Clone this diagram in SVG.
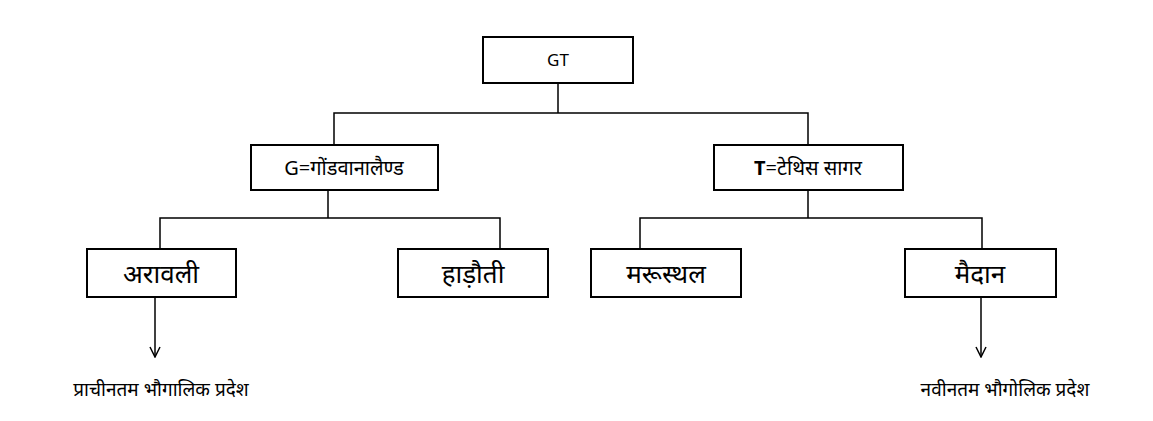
<svg xmlns="http://www.w3.org/2000/svg" width="1153" height="421" viewBox="0 0 1153 421">
<style>
.b{fill:#fff;stroke:#000;stroke-width:2}
.c{fill:none;stroke:#000;stroke-width:1.5}
text{font-family:"Noto Sans","Liberation Sans","Noto Sans CJK SC",sans-serif;fill:#000;text-anchor:middle}
.s{font-size:17px}.m{font-size:20px}.l{font-size:26px}.f{font-size:19px}
</style>
<defs><marker id="a" viewBox="0 0 12 12" refX="11" refY="6" markerWidth="12" markerHeight="12" markerUnits="userSpaceOnUse" orient="auto"><path d="M1,1 L11,6 L1,11" fill="none" stroke="#000" stroke-width="1.5"/></marker></defs>
<rect width="1153" height="421" fill="#fff"/>
<g id="connectors">
<path class="c" d="M558,83V113M334,145V113H808V145"/>
<path class="c" d="M328,190V218M160,249V218H500V249"/>
<path class="c" d="M808,190V218M640,249V218H982V249"/>
<path class="c" d="M155,297V357" marker-end="url(#a)"/>
<path class="c" d="M981,297V357" marker-end="url(#a)"/>
</g>
<g id="gt"><rect class="b" x="483" y="37" width="150" height="46"/><text class="s" x="558" y="66">GT</text></g>
<g id="g"><rect class="b" x="251" y="145" width="187" height="45"/><text class="m" x="344" y="175">G=गोंडवानालैण्ड</text></g>
<g id="t"><rect class="b" x="714" y="145" width="189" height="45"/><text class="m" x="808" y="175"><tspan font-weight="bold">T</tspan>=टेथिस सागर</text></g>
<g id="aravali"><rect class="b" x="87" y="249" width="149" height="48"/><text class="l" x="161" y="283">अरावली</text></g>
<g id="hadoti"><rect class="b" x="398" y="249" width="150" height="48"/><text class="l" x="473" y="283">हाड़ौती</text></g>
<g id="marusthal"><rect class="b" x="591" y="249" width="150" height="48"/><text class="l" x="666" y="283">मरूस्थल</text></g>
<g id="maidan"><rect class="b" x="905" y="249" width="151" height="48"/><text class="l" x="980" y="283">मैदान</text></g>
<g id="label1"><text class="f" x="161" y="396">प्राचीनतम भौगालिक प्रदेश</text></g>
<g id="label2"><text class="f" x="1005" y="396">नवीनतम भौगोलिक प्रदेश</text></g>
</svg>
